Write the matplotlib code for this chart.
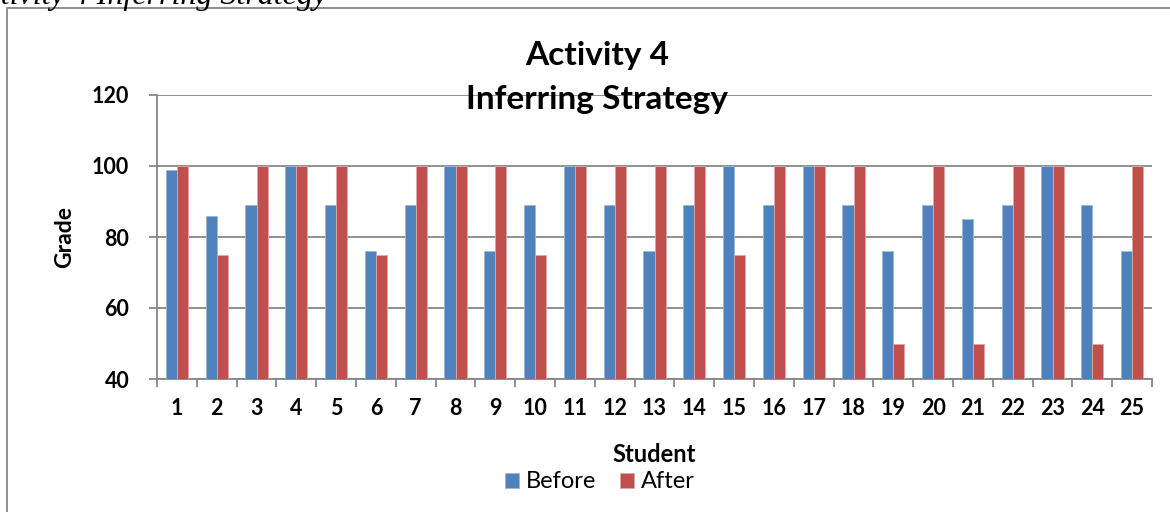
import matplotlib.pyplot as plt
import matplotlib.patches as mpatches
import numpy as np

# data
students = [str(i) for i in range(1, 26)]
before = [99, 86, 89, 100, 89, 76, 89, 100, 76, 89, 100, 89, 76,
          89, 100, 89, 100, 89, 76, 89, 85, 89, 100, 89, 76]
after = [100, 75, 100, 100, 100, 75, 100, 100, 100, 75, 100, 100, 100,
         100, 75, 100, 100, 100, 50, 100, 50, 100, 100, 50, 100]
y_ticks = [40, 60, 80, 100, 120]

plt.rcParams['font.family'] = ['Lato', 'DejaVu Sans']

blue = '#4F81BD'
red = '#C0504D'
grey = '#868686'

fig = plt.figure(figsize=(11.7, 5.12), dpi=100)

# outer chart frame (cut off at right and bottom)
fig.patches.append(mpatches.Rectangle((7 / 1170, -0.1), 1.2, 1 - 8 / 512 + 0.1,
                                      transform=fig.transFigure, fill=False,
                                      edgecolor=grey, linewidth=1.3))

# caption from the document, cropped at the top
fig.text(328 / 1170, 1 - 4 / 512, 'Activity 4 Inferring Strategy', family='Liberation Serif',
         style='italic', fontsize=23, ha='right', va='baseline')

ax = fig.add_axes([157 / 1170, 1 - 379 / 512, (1152 - 157) / 1170, (379 - 95) / 512])

x = np.arange(len(students))
w = 0.28
ax.bar(x - w / 2, before, w, color=blue, edgecolor='#9DB7DA', linewidth=0.6, label='Before', zorder=3)
ax.bar(x + w / 2, after, w, color=red, edgecolor='#E0A9A7', linewidth=0.6, label='After', zorder=3)

ax.set_xlim(-0.5, len(students) - 0.5)
ax.set_ylim(40, 120)
ax.set_yticks(y_ticks)
ax.set_yticklabels([str(v) for v in y_ticks], fontsize=15.5, fontweight='bold')
ax.yaxis.grid(True, color=grey, linewidth=1.3, zorder=0)

ax.set_xticks(x)
ax.set_xticklabels(students, fontsize=15.5, fontweight='bold')
ax.set_xticks(np.arange(-0.5, len(students)), minor=True)
ax.tick_params(axis='x', which='major', length=0, pad=14)
ax.tick_params(axis='x', which='minor', length=6, color=grey, width=1.3)
ax.tick_params(axis='y', length=6, color=grey, width=1.3, pad=14)

for s in ['top', 'right']:
    ax.spines[s].set_visible(False)
for s in ['left', 'bottom']:
    ax.spines[s].set_color(grey)
    ax.spines[s].set_linewidth(1.3)

ax.set_ylabel('Grade', fontsize=16.5, fontweight='bold', labelpad=12)
ax.set_xlabel('Student', fontsize=17, fontweight='bold', labelpad=17)

fig.text(597 / 1170, 1 - 55 / 512, 'Activity 4', fontsize=24, fontweight='bold',
         ha='center', va='center')
fig.text(597 / 1170, 1 - 100 / 512, 'Inferring Strategy', fontsize=24, fontweight='bold',
         ha='center', va='center')

fig.legend(loc='center', bbox_to_anchor=(600 / 1170, 1 - 482 / 512), ncol=2, frameon=False,
           fontsize=17, handlelength=0.6, handleheight=0.6, handletextpad=0.3,
           columnspacing=1.0, borderpad=0)

fig.savefig('out.png', dpi=100)
